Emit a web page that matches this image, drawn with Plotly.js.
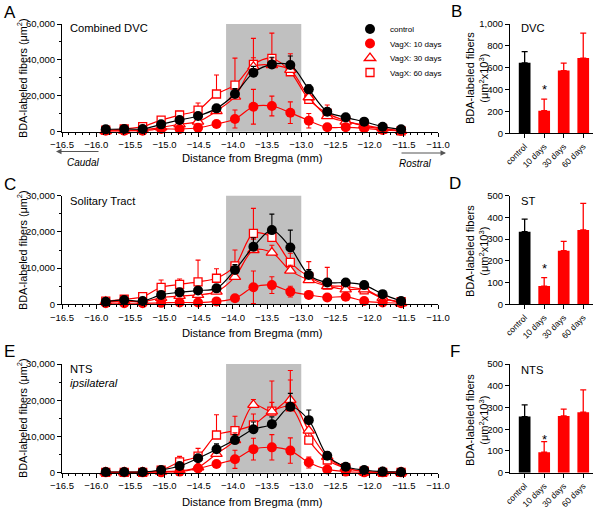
<!DOCTYPE html>
<html><head><meta charset="utf-8">
<script src="https://cdn.plot.ly/plotly-3.0.1.min.js"></script>
<style>html,body{margin:0;padding:0;background:#fff}#chart{width:600px;height:511px}</style>
</head><body><div id="chart"></div>
<script>
// ---- Data ----
const bregma = [-15.86, -15.59, -15.32, -15.05, -14.78, -14.51, -14.24, -13.97, -13.70, -13.43, -13.16, -12.89, -12.62, -12.35, -12.08, -11.81, -11.54];
const groupNames = ['control', 'VagX: 10 days', 'VagX: 30 days', 'VagX: 60 days'];
const barCats = ['control', '10 days', '30 days', '60 days'];
const shadedRegion = [-14.1, -13.0];

// Panel A: combined DVC
const dvcControl    = [1300,1500,1500,4100,6500,8750,13000,21000,32900,37500,37150,23600,11100,8000,5600,2800,1300];
const dvcControlErr = [500,600,600,1000,1500,1500,2000,3000,3500,4000,5000,2500,2000,1200,1000,800,500];
const dvc10         = [500,500,500,1500,1500,2200,4300,7100,13900,14300,10600,6100,2450,2450,1900,950,400];
const dvc10Err      = [300,300,300,600,800,1000,1500,5000,9700,5500,6000,4000,1500,1500,1000,500,300];
const dvc30         = [300,600,1000,2400,4100,5600,11500,19500,36200,37100,34400,19200,8700,5600,3700,1900,500];
const dvc30Err      = [300,400,500,800,1200,1500,2500,4000,5000,4000,3500,2000,1500,1000,800,500,300];
const dvc60         = [800,1500,2800,6500,9300,12000,21000,26000,37500,40900,33400,18000,10200,6000,3100,1500,500];
const dvc60Err      = [400,600,800,1500,2000,4000,10600,15000,14500,14000,10000,3000,4700,1500,1000,600,300];

// Panel C: solitary tract
const stControl    = [700,1200,900,2600,3300,3800,4400,9500,15900,20500,15700,8100,6000,6000,5300,2800,900];
const stControlErr = [300,400,300,800,800,900,900,1500,2500,4400,4800,1500,1000,1000,900,700,300];
const st10         = [300,300,300,400,500,500,800,1650,4700,5300,3500,2600,1900,2100,900,500,300];
const st10Err      = [200,200,200,300,300,400,500,800,4500,2300,1500,1000,800,800,500,300,200];
const st30         = [700,900,700,1800,2300,2600,3500,7600,15000,14300,9300,6700,5000,4100,4100,1800,300];
const st30Err      = [300,300,300,500,600,700,800,1500,3000,2000,1500,1200,1000,800,800,500,200];
const st60         = [900,1400,2100,4700,5500,6200,7200,10600,19600,18500,11600,7600,5300,4900,4000,1650,700];
const st60Err      = [300,500,500,2000,1500,6000,2600,4400,6900,3000,2500,4200,4900,1500,1200,600,300];

// Panel E: NTS ipsilateral
const ntsControl    = [200,200,200,750,1850,4000,6450,9000,12000,13400,18200,14500,4700,1650,750,300,200];
const ntsControlErr = [100,100,100,300,500,1000,1500,1500,2000,2000,3700,2800,1000,500,300,200,100];
const nts10         = [100,100,100,100,300,1200,2400,3700,6500,7000,6100,2800,900,300,100,100,100];
const nts10Err      = [100,100,100,100,200,500,800,2500,3000,3500,3500,1500,500,200,100,100,100];
const nts30         = [100,100,100,300,500,1500,5200,9000,18700,16900,20100,11600,4400,1300,300,100,100];
const nts30Err      = [100,100,100,200,300,700,1200,2000,1500,2500,8100,2000,800,400,200,100,100];
const nts60         = [100,100,100,700,3000,4600,10400,11600,13200,17000,18200,9000,3500,1300,400,100,100];
const nts60Err      = [100,100,100,300,1500,2100,5600,4000,3000,8300,7400,2000,800,400,200,100,100];

// Bar panels (um^2 x10^3)
const dvcBar    = [645, 207, 574, 688];
const dvcBarErr = [103, 105, 68, 229];
const stBar     = [334, 84, 247, 342];
const stBarErr  = [58, 39, 43, 123];
const ntsBar    = [258, 94, 261, 278];
const ntsBarErr = [54, 49, 31, 103];
const asteriskAt = [404, 164, 154];

// ---- Style ----
const W = 600, H = 511;
const px = v => v / W;
const py = v => 1 - v / H;
const FONT = 'Liberation Sans, Arial, sans-serif';
const RED = '#ff0000';
const zeros = n => new Array(n).fill(0);

function lineTraces(n, ctrl, ctrlErr, d10, d10Err, d30, d30Err, d60, d60Err) {
  const xa = 'x' + (n === 1 ? '' : n), ya = 'y' + (n === 1 ? '' : n);
  const base = {x: bregma, xaxis: xa, yaxis: ya, type: 'scatter', mode: 'lines+markers',
    showlegend: false, cliponaxis: false, hoverinfo: 'skip'};
  const ln = c => ({shape: 'spline', smoothing: 0.9, width: 1.2, color: c});
  const eUp = (arr, c) => ({type: 'data', array: arr, arrayminus: zeros(arr.length), symmetric: false, color: c, thickness: 1.1, width: 2.5});
  return [
    Object.assign({}, base, {y: d60, line: ln(RED),
      marker: {symbol: 'square', size: 8, color: 'white', line: {color: RED, width: 1.3}}, error_y: eUp(d60Err, RED)}),
    Object.assign({}, base, {y: d30, line: ln(RED),
      marker: {symbol: 'triangle-up', size: 10, color: 'white', line: {color: RED, width: 1.3}}, error_y: eUp(d30Err, RED)}),
    Object.assign({}, base, {y: d10, line: ln(RED),
      marker: {symbol: 'circle', size: 10, color: RED, line: {width: 0}},
      error_y: {type: 'data', array: d10Err, symmetric: true, color: RED, thickness: 1.1, width: 2.5}}),
    Object.assign({}, base, {y: ctrl, line: ln('#000'),
      marker: {symbol: 'circle', size: 10, color: '#000', line: {width: 0}}, error_y: eUp(ctrlErr, '#000')})
  ];
}

function barTraces(n, vals, errs) {
  const xa = 'x' + n, ya = 'y' + n;
  const common = {type: 'bar', xaxis: xa, yaxis: ya, width: 0.6, showlegend: false, hoverinfo: 'skip'};
  return [
    Object.assign({}, common, {x: barCats.slice(0, 1), y: vals.slice(0, 1), marker: {color: '#000'},
      error_y: {type: 'data', array: errs.slice(0, 1), arrayminus: [0], symmetric: false, color: '#000', thickness: 1.3, width: 3}}),
    Object.assign({}, common, {x: barCats.slice(1), y: vals.slice(1), marker: {color: RED},
      error_y: {type: 'data', array: errs.slice(1), arrayminus: [0, 0, 0], symmetric: false, color: RED, thickness: 1.3, width: 3}})
  ];
}

const legendMarkers = [
  {symbol: 'circle', size: 10, color: '#000'},
  {symbol: 'circle', size: 10, color: RED},
  {symbol: 'triangle-up', size: 10, color: 'white', line: {color: RED, width: 1.3}},
  {symbol: 'square', size: 8, color: 'white', line: {color: RED, width: 1.3}}
];
const legendIds = ['legend', 'legend2', 'legend3', 'legend4'];
const legendTraces = groupNames.map((name, i) => ({
  x: [null], y: [null], type: 'scatter', mode: 'markers', name: name, xaxis: 'x', yaxis: 'y',
  legend: legendIds[i], showlegend: true, marker: legendMarkers[i]
}));

const data = [].concat(
  lineTraces(1, dvcControl, dvcControlErr, dvc10, dvc10Err, dvc30, dvc30Err, dvc60, dvc60Err),
  lineTraces(3, stControl, stControlErr, st10, st10Err, st30, st30Err, st60, st60Err),
  lineTraces(5, ntsControl, ntsControlErr, nts10, nts10Err, nts30, nts30Err, nts60, nts60Err),
  barTraces(2, dvcBar, dvcBarErr),
  barTraces(4, stBar, stBarErr),
  barTraces(6, ntsBar, ntsBarErr),
  legendTraces
);

const tickFont = {family: FONT, size: 9.5, color: '#000'};
function lineX(anchor) {
  return {domain: [px(62), px(438)], range: [-16.5, -11.0], anchor: anchor, dtick: 0.5, tick0: -16.5,
    tickformat: '.1f', ticks: 'outside', ticklen: 4, tickwidth: 1, tickcolor: '#000',
    minor: {dtick: 0.1, ticks: 'outside', ticklen: 2, tickcolor: '#000', tickwidth: 1},
    showline: true, linecolor: '#000', linewidth: 1, showgrid: false, zeroline: false, tickfont: tickFont, fixedrange: true};
}
function lineY(yTop, yBot, max, dt, anchor) {
  return {domain: [py(yBot), py(yTop)], range: [0, max], anchor: anchor, dtick: dt, tickformat: ',d',
    ticks: 'outside', ticklen: 4, tickwidth: 1, tickcolor: '#000',
    minor: {dtick: dt / 2, ticks: 'outside', ticklen: 2, tickcolor: '#000', tickwidth: 1},
    showline: true, linecolor: '#000', linewidth: 1, showgrid: false, zeroline: false, tickfont: tickFont, fixedrange: true};
}
function barX(anchor) {
  return {domain: [px(510), px(593)], type: 'category', categoryorder: 'array', categoryarray: barCats,
    range: [-0.75, 3.5], anchor: anchor, tickangle: -45, ticks: 'outside', ticklen: 4, tickcolor: '#000',
    showline: true, linecolor: '#000', linewidth: 1, showgrid: false, zeroline: false,
    tickfont: {family: FONT, size: 8.5, color: '#000'}, fixedrange: true};
}
function barY(yTop, yBot, max, dt, anchor) {
  return {domain: [py(yBot), py(yTop)], range: [0, max], anchor: anchor, dtick: dt, tickformat: ',d',
    ticks: 'outside', ticklen: 4, tickcolor: '#000', showline: true, linecolor: '#000', linewidth: 1,
    showgrid: false, zeroline: false, tickfont: tickFont, fixedrange: true};
}

const A_T = 24, A_B = 131.7, C_T = 195.7, C_B = 304.3, E_T = 364, E_B = 472.7;
const B_T = 24, B_B = 133.3;

const ann = [];
function txt(x, y, text, size, opts) {
  ann.push(Object.assign({xref: 'paper', yref: 'paper', x: px(x), y: py(y), text: text, showarrow: false,
    font: {family: FONT, size: size, color: '#000'}, xanchor: 'center', yanchor: 'middle'}, opts || {}));
}
// panel letters
txt(10, 12, 'A', 17); txt(456, 11, 'B', 17);
txt(10, 184, 'C', 17); txt(455, 183, 'D', 17);
txt(9, 351, 'E', 17); txt(455, 351, 'F', 17);
// in-plot labels
txt(68, 28, 'Combined DVC', 11.2, {xanchor: 'left'});
txt(68, 201, 'Solitary Tract', 11.2, {xanchor: 'left'});
txt(68, 369, 'NTS', 11.2, {xanchor: 'left'});
txt(68, 383, '<i>ipsilateral</i>', 11.2, {xanchor: 'left'});
txt(519, 28, 'DVC', 11.2, {xanchor: 'left'});
txt(519, 201, 'ST', 11.2, {xanchor: 'left'});
txt(519, 370, 'NTS', 11.2, {xanchor: 'left'});
// axis titles
const yTitle = 'BDA-labeled fibers (\u03bcm<sup>2</sup>)';
txt(22, 78, yTitle, 10.8, {textangle: -90});
txt(22, 250, yTitle, 10.8, {textangle: -90});
txt(22, 418, yTitle, 10.8, {textangle: -90});
const barTitle = 'BDA-labeled fibers<br>(\u03bcm<sup>2</sup>x10<sup>3</sup>)';
txt(477, 78, barTitle, 11, {textangle: -90});
txt(477, 251, barTitle, 11, {textangle: -90});
txt(477, 420, barTitle, 11, {textangle: -90});
txt(252, 158, 'Distance from Bregma (mm)', 11.2);
txt(252, 333, 'Distance from Bregma (mm)', 11.2);
txt(252, 502, 'Distance from Bregma (mm)', 11.2);
// caudal / rostral
txt(83, 162, '<i>Caudal</i>', 10);
txt(415, 163, '<i>Rostral</i>', 10);
ann.push({xref: 'paper', yref: 'paper', x: px(56), y: py(151.5), ax: 44, ay: 0, axref: 'pixel', ayref: 'pixel',
  text: '', showarrow: true, arrowhead: 2, arrowsize: 1, arrowwidth: 1.1, arrowcolor: '#555'});
ann.push({xref: 'paper', yref: 'paper', x: px(446), y: py(153), ax: -46, ay: 0, axref: 'pixel', ayref: 'pixel',
  text: '', showarrow: true, arrowhead: 2, arrowsize: 1, arrowwidth: 1.1, arrowcolor: '#555'});
// asterisks
[['x2', 'y2'], ['x4', 'y4'], ['x6', 'y6']].forEach((r, i) => {
  ann.push({xref: r[0], yref: r[1], x: barCats[1], y: asteriskAt[i], text: '*', showarrow: false,
    font: {family: FONT, size: 13, color: '#000'}, yanchor: 'middle'});
});

const shapes = [['x', 'y'], ['x3', 'y3'], ['x5', 'y5']].map(r => ({
  type: 'rect', xref: r[0], yref: r[1] + ' domain', x0: shadedRegion[0], x1: shadedRegion[1], y0: 0, y1: 1,
  fillcolor: '#c0c0c0', line: {width: 0}, layer: 'below'
}));

const legendRows = [29, 43.5, 58, 72.5];
const layout = {
  width: W, height: H, margin: {l: 0, r: 0, t: 0, b: 0}, paper_bgcolor: '#fff', plot_bgcolor: 'rgba(0,0,0,0)',
  font: {family: FONT, color: '#000'}, barmode: 'overlay', showlegend: true,
  xaxis: lineX('y'), yaxis: lineY(A_T, A_B, 60000, 20000, 'x'),
  xaxis3: lineX('y3'), yaxis3: lineY(C_T, C_B, 30000, 10000, 'x3'),
  xaxis5: lineX('y5'), yaxis5: lineY(E_T, E_B, 30000, 10000, 'x5'),
  xaxis2: barX('y2'), yaxis2: barY(B_T, B_B, 1000, 200, 'x2'),
  xaxis4: barX('y4'), yaxis4: barY(C_T, C_B, 500, 100, 'x4'),
  xaxis6: barX('y6'), yaxis6: barY(E_T, E_B, 500, 100, 'x6'),
  annotations: ann, shapes: shapes
};
legendIds.forEach((id, i) => {
  layout[id] = {x: px(350), y: py(legendRows[i]), xanchor: 'left', yanchor: 'middle', bgcolor: 'rgba(0,0,0,0)',
    borderwidth: 0, font: {family: FONT, size: 8, color: '#000'}, itemwidth: 30};
});

Plotly.newPlot('chart', data, layout, {staticPlot: true, displayModeBar: false});
</script></body></html>
